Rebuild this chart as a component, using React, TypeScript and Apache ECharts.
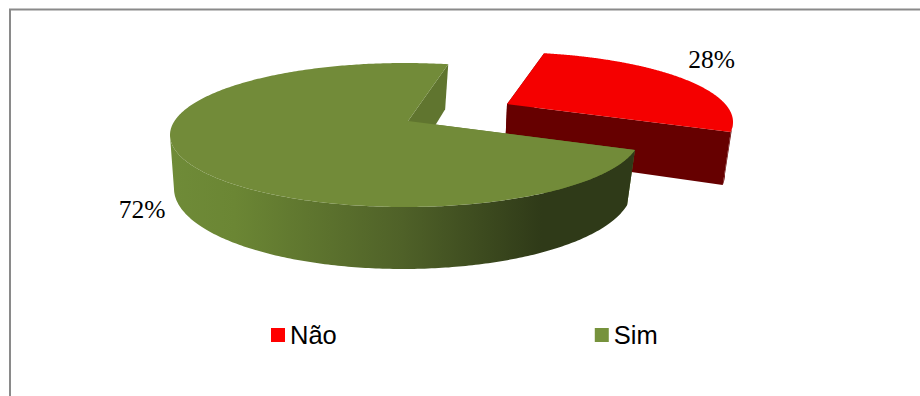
import React, { useEffect, useRef } from "react";
import * as echarts from "echarts";

const categories = ["Não", "Sim"];
const shares = [28, 72];
const topColors = ["#f50000", "#728b39"];
const legendColors = ["#ff0000", "#76923c"];

const WIDTH = 920;
const HEIGHT = 396;
const START_ANGLE = 78;
const TOTAL = shares.reduce((sum, v) => sum + v, 0);

type Ellipse = { cx: number; cy: number; a: number; b: number };
type Pie = {
  top: Ellipse;
  bottom: Ellipse;
  tiltX: number;
  tiltY: number;
  wall: any;
  radialWall: string;
  label: { x: number; y: number };
};

// Geometry of each exploded slice: upper rim, lower rim, perspective tilt and wall paint.
const pies: Pie[] = [
  {
    top: { cx: 501, cy: 122, a: 232, b: 70 },
    bottom: { cx: 499, cy: 174, a: 226, b: 78 },
    tiltX: 0.026,
    tiltY: 0.257,
    wall: "#660000",
    radialWall: "#660000",
    label: { x: 711.5, y: 72 },
  },
  {
    top: { cx: 405, cy: 135, a: 235, b: 72 },
    bottom: { cx: 403, cy: 188.5, a: 229, b: 80.5 },
    tiltX: 0.013,
    tiltY: 0.194,
    wall: {
      type: "linear",
      x: 0,
      y: 0,
      x2: 1,
      y2: 0,
      colorStops: [
        { offset: 0, color: "#6f8b38" },
        { offset: 0.14, color: "#6b8634" },
        { offset: 0.5, color: "#4f6128" },
        { offset: 0.8, color: "#2f3a18" },
        { offset: 1, color: "#2f3a18" },
      ],
    },
    radialWall: "#60752f",
    label: { x: 142, y: 222 },
  },
];

// Projects a point of the unit disc onto a rim ellipse, in perspective.
function project(u0: number, v0: number, e: Ellipse, tx: number, ty: number) {
  const sy = Math.sqrt(1 - ty * ty);
  const dy = 1 + ty * v0;
  const u1 = (u0 * sy) / dy;
  const v1 = (v0 + ty) / dy;
  const sx = Math.sqrt(1 - tx * tx);
  const dx = 1 + tx * u1;
  const u = (u1 + tx) / dx;
  const v = (v1 * sx) / dx;
  return { x: e.cx + e.a * u, y: e.cy - e.b * v, v };
}

function rimPoint(deg: number, e: Ellipse, pie: Pie) {
  const rad = (deg * Math.PI) / 180;
  return project(Math.cos(rad), Math.sin(rad), e, pie.tiltX, pie.tiltY);
}

function renderSlice(index: number, value: number) {
  const pie = pies[index];
  const before = shares.slice(0, index).reduce((s, v) => s + v, 0);
  const from = START_ANGLE - (before / TOTAL) * 360;
  const sweep = (value / TOTAL) * 360;
  const to = from - sweep;
  const angles: number[] = [];
  for (let i = 0; i <= 360; i++) angles.push(from + ((to - from) * i) / 360);

  const topArc = angles.map((a) => rimPoint(a, pie.top, pie));
  const bottomArc = angles.map((a) => rimPoint(a, pie.bottom, pie));
  const topCentre = project(0, 0, pie.top, pie.tiltX, pie.tiltY);
  const bottomCentre = project(0, 0, pie.bottom, pie.tiltX, pie.tiltY);
  const xy = (p: { x: number; y: number }) => [p.x, p.y];

  const radial = (i: number) => ({
    type: "polygon",
    shape: { points: [topCentre, topArc[i], bottomArc[i], bottomCentre].map(xy) },
    style: { fill: pie.radialWall },
  });

  const frontTop = topArc.filter((p) => p.v <= 0);
  const frontBottom = bottomArc.filter((_, i) => topArc[i].v <= 0);

  return {
    type: "group",
    children: [
      radial(0),
      radial(360),
      {
        type: "polygon",
        shape: { points: [...frontTop, ...frontBottom.slice().reverse()].map(xy) },
        style: { fill: pie.wall },
      },
      {
        type: "polygon",
        shape: { points: [topCentre, ...topArc].map(xy) },
        style: { fill: topColors[index] },
      },
      {
        type: "text",
        x: pie.label.x,
        y: pie.label.y,
        style: {
          text: `${value}%`,
          fill: "#000000",
          font: "25.5px 'Liberation Serif'",
          textAlign: "center",
          textVerticalAlign: "bottom",
        },
      },
    ],
  };
}

export default function App() {
  const ref = useRef<HTMLDivElement>(null);

  useEffect(() => {
    const chart = echarts.init(ref.current!, null, { renderer: "svg" });
    chart.setOption({
      animation: false,
      backgroundColor: "#ffffff",
      legend: {
        left: 271,
        top: 322,
        padding: 0,
        itemWidth: 14,
        itemHeight: 14,
        itemGap: 258,
        icon: "rect",
        data: categories,
        textStyle: { fontFamily: "Liberation Sans", fontSize: 25.5, color: "#000000" },
      },
      graphic: [
        {
          type: "polyline",
          shape: { points: [[10, HEIGHT], [10, 9.5], [WIDTH, 9.5]] },
          style: { stroke: "#8a8a8a", lineWidth: 2, fill: "none" },
          silent: true,
        },
      ],
      series: categories.map((name, index) => ({
        type: "custom",
        name,
        coordinateSystem: "none",
        itemStyle: { color: legendColors[index] },
        data: [shares[index]],
        renderItem: (_: any, api: any) => renderSlice(index, api.value(0)),
      })),
    });
    return () => chart.dispose();
  }, []);

  return (
    <div
      ref={ref}
      style={{ position: "absolute", left: 0, top: 0, width: WIDTH, height: HEIGHT }}
    />
  );
}
